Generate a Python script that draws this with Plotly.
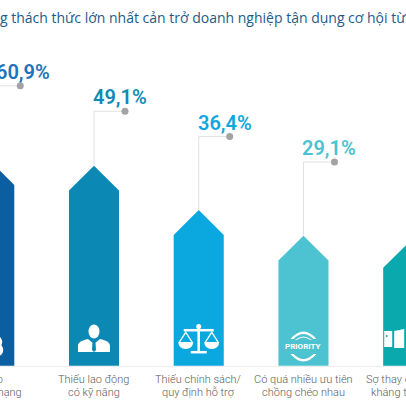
import plotly.graph_objects as go

title = "Những thách thức lớn nhất cản trở doanh nghiệp tận dụng cơ hội từ cách mạng công nghiệp 4.0"

# category labels, two lines each
label_top = ["Rủi ro", "Thiếu lao động", "Thiếu chính sách/", "Có quá nhiều ưu tiên", "Sợ thay đổi/ phản"]
label_bottom = ["an ninh mạng", "có kỹ năng", "quy định hỗ trợ", "chồng chéo nhau", "kháng từ nội bộ"]

# printed percentages
values = [60.9, 49.1, 36.4, 29.1, 27.0]
# arrow heights as drawn (first arrow is drawn shorter than its value)
arrow_heights = [50.7, 49.1, 36.4, 29.1, 27.0]

bar_colors = ["#0b5e9f", "#0b89b4", "#0ba8e0", "#4dc3d2", "#0aa9ae"]
text_colors = ["#1b74ba", "#138ab6", "#12a6df", "#4cc2d2", "#0aa9ae"]

XR = [0.1026, 3.979]
YR = [-19.57, 96.43]
HW = 0.239      # arrow half width (category units)
TIP = 7.1       # arrow point height (% units)
BASE = -8.1     # arrows run a little below zero
DOT_DX = 0.296
DOT_TOP, DOT_STEP = 71.9, 7.25
ICON_Y = -0.7
pct_shift = [5, -3, -3, -3, -3]


def px(i):
    # category position -> paper fraction (annotations off the axis range are hidden otherwise)
    return (i - XR[0]) / (XR[1] - XR[0])


def py(v):
    return (v - YR[0]) / (YR[1] - YR[0])


fig = go.Figure()

for i, h in enumerate(arrow_heights):
    col = bar_colors[i]
    fig.add_trace(go.Scatter(
        x=[i - HW, i - HW, i, i + HW, i + HW, i - HW],
        y=[BASE, h - TIP, h, h - TIP, BASE, BASE],
        fill="toself", fillcolor=col, mode="lines",
        line=dict(width=0, color=col), hoverinfo="skip"
    ))
    dy = DOT_TOP - i * DOT_STEP
    # leader line + dot
    fig.add_trace(go.Scatter(
        x=[i, i, i + DOT_DX], y=[h, dy, dy], mode="lines",
        line=dict(color="#e0e0e0", width=1), hoverinfo="skip"
    ))
    fig.add_trace(go.Scatter(
        x=[i + DOT_DX], y=[dy], mode="markers",
        marker=dict(size=7, color="#a3a3a3"), hoverinfo="skip"
    ))
    fig.add_annotation(
        xref="paper", yref="paper", x=px(i), y=py(dy),
        text=f"{values[i]:.1f}%".replace(".", ","),
        xanchor="left", yanchor="bottom", showarrow=False,
        xshift=pct_shift[i], yshift=0,
        font=dict(family="Roboto", size=20, color=text_colors[i], weight=600)
    )
    # category label
    for txt, ys in ((label_top[i], -5), (label_bottom[i], -18.5)):
        fig.add_annotation(
            xref="paper", yref="paper", x=px(i), y=py(BASE), text=txt,
            xanchor="center", yanchor="top", showarrow=False, yshift=ys,
            font=dict(family="Roboto", size=11, color="#5c5c5c", weight=300)
        )

# baseline
fig.add_shape(type="line", xref="paper", x0=0, x1=1, y0=BASE - 0.15, y1=BASE - 0.15,
              line=dict(color="#ebebeb", width=1), layer="below")


def icon(kind, i, path=None, x0=None, x1=None, y0=None, y1=None, color="white"):
    d = dict(type=kind, xref="x", yref="y", xsizemode="pixel", ysizemode="pixel",
             xanchor=i, yanchor=ICON_Y, fillcolor=color, line=dict(width=0))
    if path is not None:
        d["path"] = path
    else:
        d.update(x0=x0, x1=x1, y0=y0, y1=y1)
    fig.add_shape(**d)


# bar 1 icon (only a sliver is visible)
icon("circle", 0, x0=4, x1=14, y0=-16, y1=-4)
icon("circle", 0, x0=2, x1=13, y0=-8, y1=4)

# bar 2: person
icon("circle", 1, x0=-5.5, x1=5.5, y0=1.5, y1=15.5)
icon("path", 1, path="M -16 -12 L -16 -6 C -16 -2 -12 -0.5 -6 1 L 0 -4 L 6 1 C 12 -0.5 16 -2 16 -6 L 16 -12 Z")
icon("path", 1, path="M -1.5 -2.5 L 1.5 -2.5 L 2 -10 L 0 -12 L -2 -10 Z", color=bar_colors[1])

# bar 3: scales
icon("rect", 2, x0=-1.3, x1=1.3, y0=-12, y1=13)
icon("circle", 2, x0=-2.5, x1=2.5, y0=11, y1=16)
icon("rect", 2, x0=-15, x1=15, y0=8.5, y1=11)
icon("rect", 2, x0=-8, x1=8, y0=-13.5, y1=-11)
for sx in (-13, 13):
    icon("path", 2, path=f"M {sx} 9 L {sx - 7} -2 L {sx - 5.5} -2 L {sx} 6.5 L {sx + 5.5} -2 L {sx + 7} -2 Z")
    icon("path", 2, path=f"M {sx - 7.5} -2 L {sx + 7.5} -2 Q {sx + 7} -9 {sx} -9 Q {sx - 7} -9 {sx - 7.5} -2 Z")

# bar 4: PRIORITY stamp
icon("path", 3, path="M -13 1 Q 0 16 13 1 L 10 1 Q 0 11 -10 1 Z")
icon("path", 3, path="M -8.5 0 Q 0 7 8.5 0 L 7 0 Q 0 5 -7 0 Z")
icon("path", 3, path="M -13 -14 Q 0 -29 13 -14 L 10 -14 Q 0 -24 -10 -14 Z")
fig.add_annotation(xref="paper", yref="paper", x=px(3), y=py(ICON_Y), yshift=-7,
                   xanchor="center", yanchor="middle",
                   text="<b>PRIORITY</b>", showarrow=False,
                   font=dict(family="Roboto", size=8, color="white"))

# bar 5: devices (partly cut off)
icon("rect", 4, x0=-24, x1=-16, y0=-7, y1=9)
icon("circle", 4, x0=-22.5, x1=-20.5, y0=3, y1=5, color=bar_colors[4])
icon("path", 4, path="M -14 -8 L -14 9 L -4 11 L -4 -8 Z")

# title
fig.add_annotation(xref="paper", yref="paper", x=-0.097, y=1 - 17.5 / 406,
                   xanchor="left", yanchor="middle", text=title, showarrow=False,
                   font=dict(family="Open Sans", size=14, color="#1d5a8a"))

fig.update_xaxes(visible=False, range=XR, fixedrange=True)
fig.update_yaxes(visible=False, range=YR, fixedrange=True)
fig.update_layout(
    width=406, height=406, margin=dict(l=0, r=0, t=0, b=0),
    plot_bgcolor="white", paper_bgcolor="white", showlegend=False
)

fig.write_html("out.html", config={"displayModeBar": False},
               post_script="document.body.style.margin='0';")
